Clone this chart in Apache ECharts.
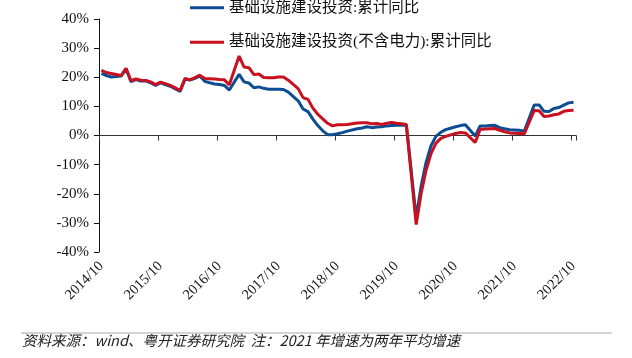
<!DOCTYPE html>
<html>
<head>
<meta charset="utf-8">
<script src="https://cdn.jsdelivr.net/npm/echarts@6/dist/echarts.min.js"></script>
<style>
html,body{margin:0;padding:0;background:#fff;}
#chart{width:632px;height:358px;}
</style>
</head>
<body>
<div id="chart"></div>
<script>
// Monthly categories 2014/10 .. 2022/10 (January has no release: null)
const startYear = 2014, startMonth = 10, monthCount = 97;
const categories = [];
for (let i = 0; i < monthCount; i++) {
  const t = (startMonth - 1) + i;
  const y = startYear + Math.floor(t / 12);
  const m = (t % 12) + 1;
  categories.push(y + '/' + (m < 10 ? '0' + m : m));
}

const seriesNames = ['基础设施建设投资:累计同比', '基础设施建设投资(不含电力):累计同比'];

// 基础设施建设投资:累计同比 (%)
const infraTotal = [
  21.3, 20.6, 20.1,                                                   // 2014/10-12
  null, 20.4, 22.9, 18.5, 19.2, 18.7, 18.8, 18.1, 17.2, 18.1, 17.5, 16.9, // 2015
  null, 15.1, 19.4, 19.0, 19.6, 20.4, 18.6, 18.1, 17.7, 17.5, 17.2, 15.6, // 2016
  null, 21.0, 18.4, 18.0, 16.4, 16.7, 16.2, 15.9, 15.9, 15.9, 15.8, 14.9, // 2017
  null, 11.9, 9.1, 8.2, 5.6, 3.4, 1.6, 0.3, 0.3, 0.6, 1.0, 1.5,           // 2018
  null, 2.3, 2.6, 3.0, 2.7, 2.9, 3.0, 3.3, 3.4, 3.5, 3.5, 3.6,            // 2019
  null, -28.2, -17.5, -9.3, -3.6, -0.3, 1.1, 2.0, 2.5, 3.0, 3.4, 3.7,     // 2020
  null, -0.2, 3.3, 3.3, 3.4, 3.5, 2.7, 2.3, 2.0, 1.9, 1.8, 1.5,           // 2021
  null, 10.5, 10.5, 8.3, 8.2, 9.3, 9.6, 10.4, 11.2, 11.4                   // 2022/01-10
];

// 基础设施建设投资(不含电力):累计同比 (%)
const infraExPower = [
  22.4, 21.6, 21.3,
  null, 20.6, 23.1, 18.8, 19.4, 19.0, 18.9, 18.4, 17.5, 18.3, 17.8, 17.2,
  null, 15.5, 19.6, 19.1, 19.9, 20.7, 19.6, 19.5, 19.4, 19.2, 19.1, 17.4,
  null, 27.3, 23.5, 23.3, 20.9, 21.1, 19.9, 19.8, 19.8, 20.1, 20.1, 19.0,
  null, 16.1, 13.0, 12.4, 9.4, 7.3, 5.7, 4.2, 3.3, 3.7, 3.7, 3.8,
  null, 4.3, 4.4, 4.4, 4.0, 4.1, 3.8, 4.2, 4.5, 4.2, 4.0, 3.8,
  null, -30.6, -20.0, -12.0, -6.3, -2.7, -1.0, -0.3, 0.2, 0.7, 1.0, 0.9,
  null, -2.4, 2.1, 2.2, 2.3, 2.4, 1.8, 1.3, 0.9, 0.8, 0.7, 0.6,
  null, 8.6, 8.5, 6.5, 6.7, 7.1, 7.4, 8.3, 8.6, 8.7
];

const sourceNote = '资料来源：wind、粤开证券研究院  注：2021 年增速为两年平均增速';

const serif = '"Liberation Serif", "Times New Roman", "Noto Sans CJK SC", serif';
const blue = '#0B4C92';
const red = '#C8101E';

const chart = echarts.init(document.getElementById('chart'), null, {renderer: 'canvas'});
chart.setOption({
  animation: false,
  backgroundColor: '#fff',
  grid: {left: 99, right: 56, top: 19, bottom: 106, containLabel: false},
  legend: {
    orient: 'vertical',
    left: 190,
    top: 0,
    padding: 0,
    itemWidth: 34,
    itemHeight: 14,
    itemGap: 19,
    icon: 'path://M0,6 L34,6 L34,9 L0,9 Z',
    textStyle: {fontFamily: serif, fontSize: 15.5, color: '#111'},
    data: seriesNames
  },
  xAxis: [
    {
      type: 'category',
      data: categories,
      boundaryGap: true,
      axisLine: {onZero: true, lineStyle: {color: '#333', width: 1}},
      axisTick: {show: true, interval: 11, length: 5, lineStyle: {color: '#333'}},
      axisLabel: {show: false},
      splitLine: {show: false}
    },
    {
      type: 'category',
      data: categories,
      boundaryGap: true,
      position: 'bottom',
      axisLine: {show: false, onZero: false},
      axisTick: {show: false},
      axisLabel: {
        interval: 11,
        rotate: 45,
        margin: 12,
        fontFamily: serif,
        fontSize: 14.5,
        color: '#111'
      },
      splitLine: {show: false}
    }
  ],
  yAxis: {
    type: 'value',
    min: -40,
    max: 40,
    interval: 10,
    axisLine: {show: true, lineStyle: {color: '#111', width: 1}},
    axisTick: {show: true, length: 5, lineStyle: {color: '#111'}},
    axisLabel: {
      formatter: '{value}%',
      margin: 10,
      fontFamily: serif,
      fontSize: 15,
      color: '#111'
    },
    splitLine: {show: false}
  },
  series: [
    {
      name: seriesNames[0],
      type: 'line',
      xAxisIndex: 0,
      data: infraTotal,
      connectNulls: true,
      showSymbol: false,
      symbol: 'none',
      lineStyle: {color: blue, width: 3},
      itemStyle: {color: blue}
    },
    {
      name: seriesNames[1],
      type: 'line',
      xAxisIndex: 0,
      data: infraExPower,
      connectNulls: true,
      showSymbol: false,
      symbol: 'none',
      lineStyle: {color: red, width: 3},
      itemStyle: {color: red}
    }
  ],
  graphic: [
    {
      type: 'line',
      shape: {x1: 21, y1: 333, x2: 612, y2: 333},
      style: {stroke: '#d4d4d4', lineWidth: 2}
    },
    {
      type: 'text',
      left: 22,
      top: 333,
      style: {
        text: sourceNote,
        font: 'italic 14.5px "Noto Sans CJK SC", "Liberation Sans", sans-serif',
        fill: '#222'
      }
    }
  ]
});
</script>
</body>
</html>
